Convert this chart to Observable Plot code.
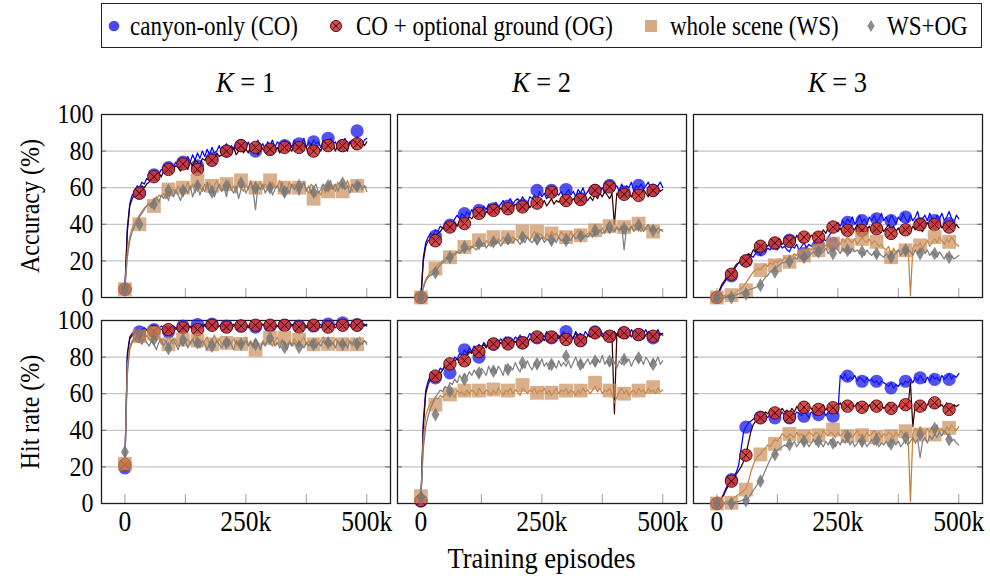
<!DOCTYPE html>
<html>
<head>
<meta charset="utf-8">
<script src="https://cdn.jsdelivr.net/npm/d3@7"></script>
<script src="https://cdn.jsdelivr.net/npm/@observablehq/plot@0.6"></script>
<style>
  html, body { margin: 0; padding: 0; background: #fff; }
  #root { position: relative; width: 990px; height: 576px; background: #fff; overflow: hidden;
          font-family: "Liberation Serif", "Times New Roman", serif; color: #000; }
  .abs { position: absolute; white-space: nowrap; }
  .panel { position: absolute; }
  .panel svg { overflow: visible; }
</style>
</head>
<body>
<div id="root"></div>
<script>
// ---------------- DATA ----------------
const seriesNames = ["canyon-only (CO)", "CO + optional ground (OG)", "whole scene (WS)", "WS+OG"];
const columnTitles = ["1", "2", "3"];           // K = ...
const rowTitles = ["Accuracy (%)", "Hit rate (%)"];
const xAxisTitle = "Training episodes";
const yTicks = [0, 20, 40, 60, 80, 100];
const xMinorTicks = [0, 125000, 250000, 375000, 500000];
const xLabelTicks = [0, 250000, 500000];
const xTickLabels = ["0", "250k", "500k"];

// sampling grid of the logged curves (every 5k episodes) and of the markers (every 30k)
const lineEpisodes = d3.range(0, 500001, 5000);
const markEpisodes = [0, 30000, 60000, 90000, 120000, 150000, 180000, 210000, 240000,
                      270000, 300000, 330000, 360000, 390000, 420000, 450000, 480000];

// ---- Accuracy, K = 1
const accK1CO = [4.5,38,51,56,57,61,60,63,62,65, 64,67,66,69,67,70,69,72,70,73, 71,74,72,76,73,75,77,74,78,75, 79,76,80,77,81,78,82,79,80,83, 79,82,84,80,83,81,85,82,80,84, 82,85,81,84,83,86,82,84,81,85, 83,86,82,85,84,81,86,83,85,82, 86,83,85,84,87,82,85,83,86,84, 85,82,86,84,83,87,84,85,82,86, 84,87,83,85,86,84,88,85,83,86, 87];
const accK1OG = [4.5,36,50,54,56,58,57,61,60,62, 63,66,64,67,68,66,69,70,68,71, 70,72,71,69,73,71,70,74,72,75, 74,72,76,75,77,74,78,76,79,77, 78,80,77,81,79,82,78,80,83,79, 81,79,83,80,82,78,84,81,80,83, 81,84,80,82,79,83,81,84,82,80, 83,81,84,80,83,82,78,84,81,83, 82,80,84,81,83,82,85,80,83,81, 84,82,80,85,83,81,84,82,85,83, 85];
const accK1WS = [4.5,25,33,38,41,43,45,47,49,50, 52,51,54,53,56,55,57,54,58,56, 59,57,61,58,55,60,63,59,62,57, 64,60,58,62,59,63,57,61,64,60, 58,62,60,64,59,61,57,63,60,58, 62,59,64,60,57,61,63,59,62,60, 58,63,60,61,64,58,61,59,63,60, 62,58,61,60,63,59,57,62,60,55, 58,56,60,57,62,59,61,58,63,60, 62,59,64,60,58,62,59,63,60,61, 60];
const accK1WSOG = [4.5,22,31,36,39,42,44,46,48,50, 51,49,53,55,52,56,54,57,53,58, 55,59,56,53,58,60,57,61,55,59, 62,56,60,58,63,57,61,55,59,62, 58,60,55,62,59,57,61,54,59,62, 57,60,63,58,48,61,59,62,57,60, 62,56,59,61,58,63,55,60,57,62, 59,61,56,60,63,58,61,57,60,62, 57,59,62,58,61,64,59,62,58,61, 63,59,61,57,62,60,58,63,59,61, 58];
const accK1COm = [4.5,57,67,71,74,72,76,80,83,80,81,83,84,85,87,83,91];
const accK1OGm = [4.5,57,66,70,73,70,75,80,83,82,81,82,82,80,83,83,84];
const accK1WSm = [4.5,40,50,59,60,64,61,62,64,60,64,60,60,54,58,58,61];
const accK1WSOGm = [4.5,40,51,58.5,58.5,61,57.6,61,62.5,60,60,57.6,61,57.6,61,62.5,61];

// ---- Accuracy, K = 2
const accK2CO = [0,22,30,33,35,34,37,36,39,38, 40,39,42,41,43,45,43,46,44,47, 45,48,46,47,49,47,50,48,51,49, 50,52,49,51,53,50,52,54,51,53, 54,52,55,53,51,55,54,56,53,58, 55,57,54,56,58,55,57,56,58,55, 57,59,56,58,55,59,57,60,56,58, 60,57,59,61,58,60,57,59,62,58, 60,61,58,62,59,61,60,63,58,61, 60,62,59,61,63,60,62,59,61,63, 60];
const accK2OG = [0,20,28,31,32,33,34,35,36,38, 37,39,38,40,41,39,42,41,43,42, 44,43,45,44,46,45,44,47,46,48, 46,48,47,49,47,48,50,48,49,51, 50,48,51,50,52,49,51,53,50,52, 51,53,50,52,54,51,53,52,54,51, 53,55,52,54,53,55,52,56,54,53, 55,53,56,54,57,55,58,56,54,57, 40,57,55,58,56,59,57,55,58,56, 58,56,59,57,55,58,60,57,59,58, 59];
const accK2WS = [0,6,10,12,14,15,16,18,19,20, 22,21,23,24,23,25,26,25,27,26, 28,27,29,28,30,29,28,31,30,29, 31,30,32,31,33,31,32,30,33,32, 31,33,32,34,33,31,34,36,33,35, 34,32,35,33,36,34,35,33,36,34, 35,33,36,34,35,37,34,36,33,35, 36,34,37,35,36,38,35,37,36,38, 37,39,36,38,37,39,36,38,40,37, 38,36,39,37,38,36,39,37,35,37, 36];
const accK2WSOG = [0,5,9,11,12,13,14,16,18,19, 20,22,21,23,24,25,24,26,25,27, 26,28,27,26,29,28,30,27,29,28, 30,29,31,28,30,32,29,31,30,32, 31,29,32,30,33,31,30,32,29,31, 33,30,32,31,29,32,30,33,31,32, 30,33,31,34,32,33,35,32,34,33, 35,33,36,34,37,35,36,38,35,37, 36,38,37,39,26,38,37,39,36,38, 37,39,36,38,40,37,39,36,38,37, 37];
const accK2COm = [0,33.5,39.5,45.8,47.6,48.5,50,50.4,58.5,58.5,59,54,58.5,61.3,57.6,61.3,58.5];
const accK2OGm = [0,31,38.5,40.4,46,47.6,48.5,49.5,51.6,57.6,53,53.5,58.5,60.4,56.4,55.8,58.5];
const accK2WSm = [0,15.8,22,27.6,31.3,33,33,36,36,35,33,34,36.7,39,38.5,40.4,36];
const accK2WSOGm = [0,13.6,22,27.6,29.5,30.4,32,33,32,31.3,31.3,33.5,36.7,38.5,37.6,39.5,36.7];

// ---- Accuracy, K = 3
const accK3CO = [0,3,6,8,10,11,12,15,17,19, 20,21,20,22,23,22,24,25,23,26, 25,27,26,28,27,26,29,27,28,26, 25,28,27,29,26,28,30,27,29,28, 30,29,31,30,32,31,33,35,37,38, 41,39,42,40,43,41,44,40,42,45, 41,43,40,44,42,45,41,43,46,42, 44,41,45,43,40,44,42,46,43,41, 45,42,44,47,41,43,45,42,46,43, 41,45,43,46,42,44,47,43,41,45, 43];
const accK3OG = [0,4,7,9,11,12,13,16,18,19, 20,22,21,24,23,26,25,27,28,27, 29,28,30,29,31,30,32,29,31,33, 30,32,31,34,32,30,33,35,32,34, 33,35,36,34,37,35,38,36,37,39, 36,38,35,37,39,36,38,37,40,36, 38,35,37,39,36,38,35,37,39,36, 38,40,37,39,36,38,35,37,39,38, 36,39,37,40,38,36,39,41,38,40, 37,39,41,38,40,37,39,41,38,40, 38];
const accK3WS = [0,0,0.5,1,1,1.5,1,2,3,4, 5,6,8,10,12,14,15,16,15,17, 18,17,19,18,20,19,21,20,22,21, 23,22,24,23,25,24,26,25,27,26, 28,27,29,28,30,28,31,29,30,28, 31,29,32,30,33,31,30,32,29,31, 33,31,30,32,29,31,30,28,29,27, 26,28,22,27,24,26,25,27,26,28, 1,27,29,28,30,27,29,31,28,30, 32,30,33,31,29,32,30,33,31,29, 28];
const accK3WSOG = [0,0,0,0,0.5,1,0.5,1,1.5,2, 2.5,3,3.5,4,4.5,5,5.5,6,7,9, 11,12,14,15,16,17,18,19,19,20, 21,20,22,21,23,22,24,23,22,24, 25,23,26,24,25,27,24,26,25,27, 26,24,27,25,26,24,27,25,26,24, 25,23,26,24,23,25,22,24,23,22, 24,22,25,23,24,26,23,25,24,26, 25,23,26,24,25,27,24,26,23,25, 24,22,25,23,21,24,22,23,21,22, 23];
const accK3COm = [0,11.8,20,26,29.5,31.3,24,28.5,29.5,41,42,43,42,44,40.4,42,40.4];
const accK3OGm = [0,12.7,20,28,29.8,30.7,33,33,38.5,36.7,36.7,37.6,35,37,39.8,39.8,38.5];
const accK3WSm = [0,1.3,4,15,17.6,19.5,23,25.8,29.5,28.5,32,30.4,22,25.8,28.5,33,30.4];
const accK3WSOGm = [0,0,2,6.7,14,19.5,22,25,24,25.8,25,24,22,25.8,24,24,22];

// ---- Hit rate, K = 1
const hitK1CO = [20,82,91,93,94,95,94,95,96,95, 96,95,94,96,95,97,96,95,97,96, 97,96,95,97,96,98,97,96,97,98, 96,97,98,97,96,98,97,98,96,97, 98,97,96,98,97,98,97,96,98,97, 98,97,98,96,97,98,97,98,97,96, 98,97,98,97,96,98,97,98,97,98, 97,96,98,97,98,97,96,98,97,98, 97,98,96,98,97,98,97,96,98,97, 98,97,98,97,96,98,97,98,97,98, 97];
const hitK1OG = [21,80,90,92,93,94,93,95,94,95, 94,96,95,94,96,95,96,94,96,95, 96,95,97,96,95,97,96,97,95,97, 96,97,96,98,97,96,97,98,96,97, 97,96,98,97,96,97,98,97,96,98, 97,96,98,97,98,96,97,98,97,96, 97,98,96,97,98,97,96,98,97,97, 98,96,97,98,97,96,98,97,96,98, 97,96,98,97,98,96,97,98,97,96, 98,97,96,98,97,98,96,97,98,97, 98];
const hitK1WS = [22,75,86,89,91,92,90,91,89,92, 90,88,91,89,92,87,90,88,91,89, 87,90,86,89,91,88,90,87,89,92, 88,90,86,89,91,87,89,92,88,90, 87,89,91,86,88,90,87,89,86,88, 91,87,89,86,90,88,85,89,87,90, 88,86,89,91,87,90,88,86,89,87, 90,88,86,89,91,87,89,86,88,90, 87,89,91,88,86,89,87,90,88,86, 89,87,90,88,86,89,87,91,88,89, 88];
const hitK1WSOG = [28,70,84,88,90,91,89,87,90,88, 86,89,87,84,88,90,86,89,85,88, 90,87,84,88,86,89,85,88,90,86, 88,85,89,87,84,88,90,86,89,87, 85,88,86,90,87,84,89,86,88,87, 89,86,88,85,90,87,84,88,86,89, 87,90,86,88,85,89,87,84,88,86, 88,86,89,87,85,88,86,89,87,85, 88,86,89,87,90,86,88,85,89,87, 86,88,85,89,87,90,86,88,87,89, 87];
const hitK1COm = [19.5,93.8,95,93.8,97,97.8,98,97,97,96.4,97,97.4,97,97,98,98.7,97.8];
const hitK1OGm = [21.3,91.4,94,95,96,95,97.4,96.4,97,97.4,97.4,97.4,96.4,97.4,96.4,97.4,97.4];
const hitK1WSm = [21.7,91.4,93,87,89.6,89,87,87.8,87.2,84,90.5,90.5,89.6,87,87.2,87,87];
const hitK1WSOGm = [28.2,92.3,89.6,84.7,89.6,87.8,86,87.8,87,87,90.5,85.4,85.4,87,87.8,87,87];

// ---- Hit rate, K = 2
const hitK2CO = [1,45,62,67,70,69,72,71,74,73, 76,75,78,77,80,79,82,81,84,82, 85,83,86,84,87,85,88,86,87,89, 87,89,88,90,88,91,89,90,88,91, 90,92,89,91,90,93,91,89,92,90, 93,91,94,90,92,91,93,90,92,94, 91,93,92,90,94,92,93,91,94,92, 93,91,94,92,95,93,91,94,92,93, 94,92,95,93,91,94,92,95,93,92, 94,92,93,95,92,94,91,93,95,92, 93];
const hitK2OG = [1,42,60,65,68,70,69,72,71,73, 75,74,77,76,78,79,77,80,79,81, 83,82,84,83,86,85,87,85,88,86, 87,89,86,88,87,90,88,87,89,88, 90,88,91,89,87,90,89,91,88,90, 91,89,92,90,88,91,90,92,89,91, 90,92,89,91,93,90,92,91,89,92, 91,93,90,92,94,91,93,90,92,91, 49,93,91,94,92,90,93,91,94,92, 91,93,90,92,94,91,93,92,90,93, 92];
const hitK2WS = [4,35,48,52,55,56,58,57,59,58, 60,59,61,60,58,62,60,61,59,62, 60,62,61,59,63,61,60,62,61,59, 62,60,63,61,59,62,61,63,60,62, 61,59,63,62,60,62,61,63,60,62, 61,63,60,62,59,61,63,60,62,61, 63,60,62,61,59,62,60,63,61,62, 60,62,64,61,63,60,62,61,63,60, 55,58,61,63,60,62,59,61,62,60, 63,61,62,60,63,61,62,60,63,61, 62];
const hitK2WSOG = [3.6,30,42,48,52,55,58,60,62,61, 64,63,66,65,68,66,70,68,71,69, 72,70,73,71,69,74,72,70,75,72, 74,71,75,73,70,76,72,75,73,77, 74,72,76,74,78,75,73,77,74,76, 79,75,77,73,78,76,74,78,75,77, 75,78,74,77,80,76,78,74,77,79, 76,78,75,79,77,81,76,78,75,79, 77,74,78,76,80,77,79,75,78,80, 77,79,76,80,78,75,79,77,80,76, 78];
const hitK2COm = [1.3,68.7,71.4,84,80,87,87.8,87.8,90.5,90.5,94,89,93.8,91.4,93.3,92.3,90.5];
const hitK2OGm = [1.6,69.6,76.3,78,83,87.2,87.2,87.8,91,91,89.6,89,93.3,91.4,93.3,92.3,91.4];
const hitK2WSm = [4,54,59.6,61.7,61.7,62.3,61.7,64.7,60.5,60.5,61.7,61.7,66,61.7,60,61.7,63.6];
const hitK2WSOGm = [3.6,48.6,61.4,67.8,71.4,72.3,73.2,76.9,76.3,76,80.5,76,77.8,77.8,78.7,79.6,76];

// ---- Hit rate, K = 3
const hitK3CO = [0,1,3,6,9,11,13,15,17,21, 30,39,42,44,45,46,47,46,48,47, 48,47,49,48,47,49,48,50,48,49, 47,49,48,50,49,48,50,49,47,50, 49,48,50,49,51,48,50,49,51,50, 49,70,68,71,67,69,68,70,67,69, 68,66,69,67,68,66,67,65,67,66, 65,64,66,63,65,64,66,65,67,66, 68,66,69,67,70,68,66,69,67,70, 68,69,67,70,68,69,71,68,70,69, 71];
const hitK3OG = [0,1,3,5,8,10,12,14,16,18, 20,23,27,33,39,43,45,46,47,48, 50,49,51,50,48,51,50,52,50,51, 49,52,50,53,51,50,52,51,53,52, 50,53,51,52,54,51,53,52,54,51, 53,55,52,54,53,52,54,53,55,52, 54,53,51,54,52,55,53,51,54,52, 53,55,52,54,51,53,55,52,54,53, 66,42,54,52,55,53,51,54,56,53, 52,55,53,54,52,55,53,51,54,53, 54];
const hitK3WS = [0,0,0,0.5,1,1.5,2,3,4,5, 6,7,8,12,17,21,24,26,27,29, 30,32,31,33,35,34,36,38,37,36, 38,37,36,39,37,38,36,37,39,38, 37,39,38,36,40,38,37,39,38,36, 39,37,38,40,37,39,36,38,40,37, 38,36,39,37,38,40,37,39,36,38, 37,39,38,36,39,37,40,38,37,39, 1,38,41,39,42,40,38,41,39,42, 40,43,39,41,38,42,40,43,41,40, 42];
const hitK3WSOG = [0,0,0,0,0,0.5,0.5,0.5,1,1, 1.5,2,2,3,5,7,9,11,12,15, 18,21,24,26,27,29,30,31,32,31, 33,32,34,31,33,35,32,34,31,33, 35,32,34,33,31,34,32,35,33,31, 34,32,35,33,36,32,34,31,33,35, 32,34,31,33,35,32,34,31,33,32, 34,31,33,35,32,34,31,33,35,32, 34,36,33,35,25,34,36,33,37,35, 38,36,39,37,40,38,36,34,35,33, 32];
const hitK3COm = [0,13,41.7,47.2,46.8,46.8,47.7,48.6,47.7,69.6,66.8,66.8,63.2,66.8,68.7,67.8,67.8];
const hitK3OGm = [0,12.2,26.4,46.8,49.5,47.2,52.6,51.4,52.3,53.2,52.6,53.2,52,54,53.2,55,51.4];
const hitK3WSm = [0,0.4,7.6,26.8,32.6,38,36.8,37.3,40.4,36.8,37.3,36.2,36.8,39.5,37.7,37.7,41.3];
const hitK3WSOGm = [0,0,1.6,12.2,26.8,32.2,34,34,33,36.8,34,35,32.6,35.9,37.7,41,35];

// ---------------- LAYOUT / STYLE ----------------
const FONT = '"Liberation Serif", "Times New Roman", serif';
const W = 289, H = 183;
const colLeft = [101, 397, 693];
const rowTop = [114, 320];
const X_DOMAIN = [-48400, 549000];

const styles = [
  {line: "#0000ff", dot: {symbol: "circle", r: 6.6, fill: "#1c1cee", fillOpacity: 0.76}},
  {line: "#3c0000", dot: {symbol: "circle", r: 6.2, fill: "#d13838", fillOpacity: 0.9, stroke: "#4a0a0a", strokeWidth: 0.9}, cross: true},
  {line: "#c98038", dot: {symbol: "square", r: 7.8, fill: "#c98e5a", fillOpacity: 0.7}},
  {line: "#808080", dot: {symbol: "diamond", r: 4.2, fill: "#777", fillOpacity: 0.85}}
];

const panels = [
  {row: 0, col: 0, lines: [accK1CO, accK1OG, accK1WS, accK1WSOG], marks: [accK1COm, accK1OGm, accK1WSm, accK1WSOGm]},
  {row: 0, col: 1, lines: [accK2CO, accK2OG, accK2WS, accK2WSOG], marks: [accK2COm, accK2OGm, accK2WSm, accK2WSOGm]},
  {row: 0, col: 2, lines: [accK3CO, accK3OG, accK3WS, accK3WSOG], marks: [accK3COm, accK3OGm, accK3WSm, accK3WSOGm]},
  {row: 1, col: 0, lines: [hitK1CO, hitK1OG, hitK1WS, hitK1WSOG], marks: [hitK1COm, hitK1OGm, hitK1WSm, hitK1WSOGm]},
  {row: 1, col: 1, lines: [hitK2CO, hitK2OG, hitK2WS, hitK2WSOG], marks: [hitK2COm, hitK2OGm, hitK2WSm, hitK2WSOGm]},
  {row: 1, col: 2, lines: [hitK3CO, hitK3OG, hitK3WS, hitK3WSOG], marks: [hitK3COm, hitK3OGm, hitK3WSm, hitK3WSOGm]}
];

const root = document.getElementById("root");

function stretchTexts(svg, k) {
  svg.querySelectorAll("text").forEach(t => {
    const tr = t.getAttribute("transform");
    if (tr) {
      t.setAttribute("transform", tr + ` scale(1,${k})`);
    } else {
      const x = t.getAttribute("x") || 0, y = t.getAttribute("y") || 0;
      t.removeAttribute("x"); t.removeAttribute("y");
      t.setAttribute("transform", `translate(${x},${y}) scale(1,${k})`);
    }
  });
}

function makePanel(p) {
  const inner = yTicks.slice(1, -1);
  const marks = [
    Plot.ruleY(inner, {stroke: "#c6c6c6", strokeWidth: 1.2}),
    Plot.ruleY(inner, {stroke: "#777", strokeWidth: 1.2, insetRight: W - 5}),
    Plot.ruleY(inner, {stroke: "#777", strokeWidth: 1.2, insetLeft: W - 5}),
    Plot.ruleX(xMinorTicks, {stroke: "#a8a8a8", strokeWidth: 1.1, insetTop: H - 9}),
    Plot.frame({stroke: "#1e1e1e", strokeWidth: 1.3})
  ];
  const hasY = p.col === 0, hasX = p.row === 1;
  if (hasY) marks.push(Plot.axisY(yTicks, {anchor: "left", tickSize: 0, tickPadding: 8, label: null,
    fontSize: 24, fontFamily: FONT, fill: "#000"}));
  if (hasX) marks.push(Plot.axisX(xLabelTicks, {anchor: "bottom", tickSize: 0, tickPadding: 7, label: null,
    fontSize: 25.5, fontFamily: FONT, fill: "#000",
    tickFormat: d => xTickLabels[xLabelTicks.indexOf(d)]}));
  styles.forEach((s, k) => {
    const lineData = p.lines[k].map((v, i) => ({ep: lineEpisodes[i], v}));
    const markData = p.marks[k].map((v, i) => ({ep: markEpisodes[i], v}));
    marks.push(Plot.line(lineData, {x: "ep", y: "v", stroke: s.line, strokeWidth: 1.25}));
    marks.push(Plot.dot(markData, {x: "ep", y: "v", ...s.dot}));
    if (s.cross) marks.push(Plot.dot(markData, {x: "ep", y: "v", symbol: "times", r: 4.1, stroke: "#3a0000", strokeWidth: 1}));
  });
  const svg = Plot.plot({
    width: W, height: H,
    marginTop: 0, marginRight: 0, marginBottom: 0, marginLeft: 0,
    x: {domain: X_DOMAIN, ...(hasX ? {} : {axis: null})},
    y: {domain: [0, 100], ...(hasY ? {} : {axis: null})},
    style: {background: "none", overflow: "visible", fontFamily: FONT, fontSize: "24px", color: "#000"},
    marks
  });
  stretchTexts(svg, 1.12);
  const holder = document.createElement("div");
  holder.className = "panel";
  holder.style.left = colLeft[p.col] + "px";
  holder.style.top = rowTop[p.row] + "px";
  holder.style.width = W + "px";
  holder.style.height = H + "px";
  holder.appendChild(svg);
  root.appendChild(holder);
}
panels.forEach(makePanel);

// ---------- text helpers (HTML) ----------
function centeredText(html, cx, cy, size, extra = "") {
  const d = document.createElement("div");
  d.className = "abs";
  d.innerHTML = html;
  d.style.left = cx + "px";
  d.style.top = cy + "px";
  d.style.fontSize = size + "px";
  d.style.lineHeight = "1";
  d.style.transform = `translate(-50%,-50%) ${extra}`;
  root.appendChild(d);
  return d;
}

// column titles K = 1,2,3
columnTitles.forEach((k, i) => {
  centeredText(`<i>K</i> = ${k}`, colLeft[i] + W / 2, 82, 26.5, `scaleY(1.15)`);
});
// row titles
rowTitles.forEach((t, i) => {
  centeredText(t, 30, rowTop[i] + H / 2, 24, `rotate(-90deg) scaleY(1.15)`);
});
// x axis title
centeredText(xAxisTitle, (colLeft[0] + colLeft[2] + W) / 2, 558, 26.5, `scaleY(1.15)`);

// ---------- legend ----------
const legend = document.createElement("div");
legend.className = "abs";
Object.assign(legend.style, {left: "101px", top: "3px", width: "879px", height: "43px",
  border: "1.3px solid #222", background: "#fff"});
root.appendChild(legend);

const legendSymbols = [
  `<svg width="16" height="16" viewBox="-8 -8 16 16"><circle r="5.3" fill="#1c1cee" fill-opacity="0.8"/></svg>`,
  `<svg width="16" height="16" viewBox="-8 -8 16 16"><circle r="5.6" fill="#d13838" fill-opacity="0.9" stroke="#4a0a0a" stroke-width="0.9"/><path d="M-3.8,-3.8L3.8,3.8M-3.8,3.8L3.8,-3.8" stroke="#3a0000" stroke-width="1"/></svg>`,
  `<svg width="16" height="16" viewBox="-8 -8 16 16"><rect x="-6" y="-6" width="12" height="12" fill="#c98e5a" fill-opacity="0.75"/></svg>`,
  `<svg width="16" height="16" viewBox="-8 -8 16 16"><path d="M0,-6L3.6,0L0,6L-3.6,0Z" fill="#777" fill-opacity="0.85"/></svg>`
];
const legendSymbolX = [114, 336, 651, 871];
const legendTextX = [130, 356, 670, 887];
seriesNames.forEach((name, i) => {
  const s = document.createElement("div");
  s.className = "abs";
  s.innerHTML = legendSymbols[i];
  Object.assign(s.style, {left: (legendSymbolX[i] - 8) + "px", top: (26 - 8) + "px", width: "16px", height: "16px", lineHeight: "0"});
  root.appendChild(s);
  const t = document.createElement("div");
  t.className = "abs";
  t.textContent = name;
  Object.assign(t.style, {left: legendTextX[i] + "px", top: "26px", fontSize: "23px", lineHeight: "1",
    transform: `translateY(-50%) scaleY(1.15)`, transformOrigin: "left center"});
  root.appendChild(t);
});
</script>
</body>
</html>
